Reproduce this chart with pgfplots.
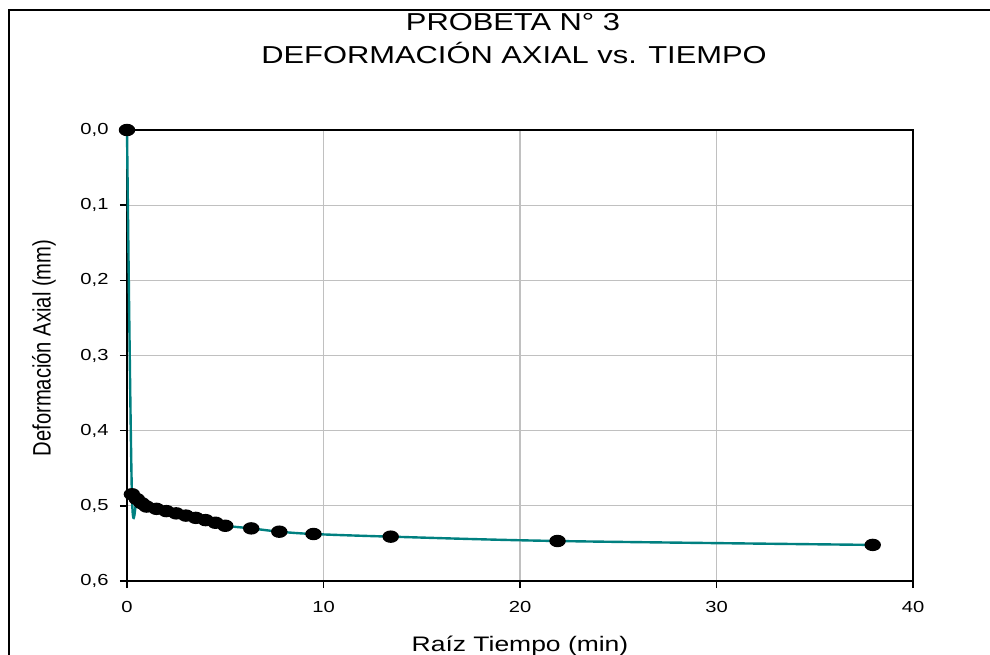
\documentclass[border=0pt]{standalone}
\usepackage{pgfplots}
\pgfplotsset{compat=1.18}
\usepackage{fontspec}
\setmainfont{Liberation Sans}
% the reference is stretched sideways, so the text is too
\newfontfamily\widefont[FakeStretch=1.26]{Liberation Sans}
\definecolor{curve}{RGB}{0,128,128}
\definecolor{gridgray}{RGB}{192,192,192}

\pgfplotstableread{
t     d
0     0
0.25  0.4846
0.5   0.4910
0.75  0.4966
1     0.5010
1.5   0.5040
2     0.5070
2.5   0.5100
3     0.5130
3.5   0.5160
4     0.5190
4.5   0.5225
5     0.5265
6.32  0.5300
7.75  0.5344
9.49  0.5375
13.42 0.5410
21.91 0.5468
37.95 0.5520
}\probeta

\begin{document}
\begin{tikzpicture}[x=1pt,y=1pt]
\useasboundingbox (0,0) rectangle (990,655);
\draw[line width=2.2pt] (9,645) rectangle (1010,-20);

\node[font=\widefont\fontsize{24.5}{28}\selectfont, anchor=base] at (513,624) {PROBETA N° 3};
\node[font=\widefont\fontsize{24.5}{28}\selectfont, anchor=base] at (514,591) {DEFORMACIÓN AXIAL vs. TIEMPO};
\node[rotate=90] at (44,307) {\scalebox{1.01}[1.26]{\fontsize{20}{24}\selectfont Deformación Axial (mm)}};

\begin{axis}[
  at={(127pt,74pt)}, anchor=south west,
  scale only axis, width=786pt, height=451pt,
  xmin=0, xmax=40, ymin=0, ymax=0.6,
  y dir=reverse,
  xtick={0,10,20,30,40},
  ytick={0,0.1,0.2,0.3,0.4,0.5,0.6},
  grid=major,
  major grid style={gridgray, line width=1.1pt},
  axis line style={black, line width=1.4pt},
  tick style={black, line width=1.4pt},
  tick align=outside, tick pos=left,
  major tick length=7pt,
  tick label style={font=\widefont\fontsize{16}{19}\selectfont},
  /pgf/number format/assume math mode=true,
  yticklabel style={/pgf/number format/fixed, /pgf/number format/fixed zerofill,
    /pgf/number format/precision=1, /pgf/number format/use comma, xshift=-8pt},
  xticklabel style={yshift=-10pt},
  xlabel={Raíz Tiempo (min)},
  xlabel style={font=\widefont\fontsize{21}{25}\selectfont, yshift=-16pt},
  clip=false,
]
\addplot[curve, line width=2.4pt, smooth, mark=*,
  mark options={black, fill=black, xscale=1.4}, mark size=5pt]
  table[x=t, y=d] {\probeta};
\end{axis}
\end{tikzpicture}
\end{document}
